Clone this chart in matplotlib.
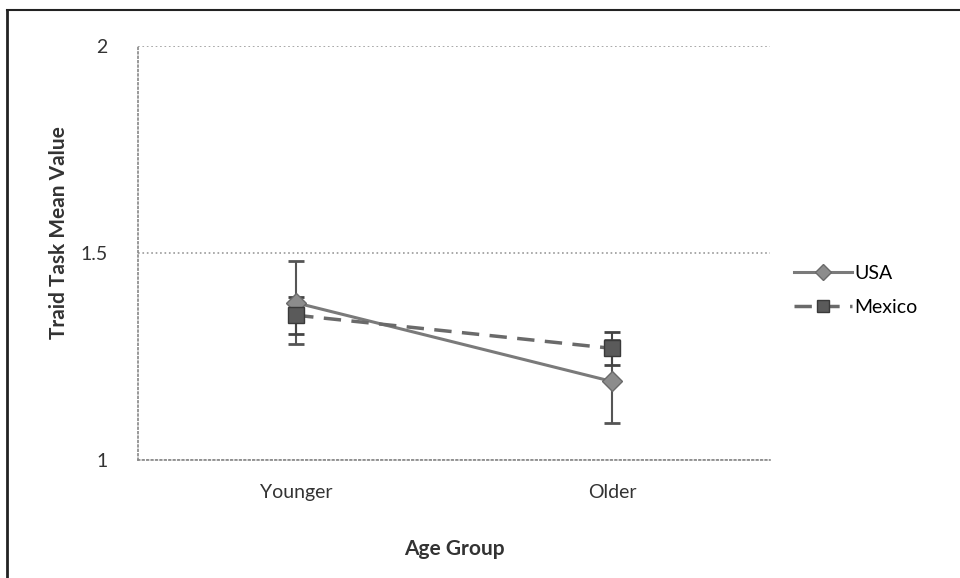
import matplotlib
matplotlib.use("Agg")
import matplotlib.pyplot as plt
from matplotlib.lines import Line2D
import numpy as np

groups = ["Younger", "Older"]
usa = [1.38, 1.19]
usa_err = [0.10, 0.10]
mexico = [1.35, 1.27]
mexico_err = [0.045, 0.04]

plt.rcParams['font.family'] = ['Lato', 'DejaVu Sans']

fig = plt.figure(figsize=(9.6, 5.78), dpi=100)
ax = fig.add_axes([0.144, 0.204, 0.658, 0.716])

x = np.arange(len(groups))

usa_style = dict(color="#7a7a7a", linestyle="-", linewidth=2.2, marker="D", markersize=10,
                 markerfacecolor="#8c8c8c", markeredgecolor="#6a6a6a")
mex_style = dict(color="#6a6a6a", linestyle=(0, (5, 3)), linewidth=2.5, marker="s", markersize=11,
                 markerfacecolor="#5a5a5a", markeredgecolor="#3a3a3a")

ax.errorbar(x, usa, yerr=usa_err, ecolor="#555555", elinewidth=1.5, capsize=6, capthick=2, **usa_style)
ax.errorbar(x, mexico, yerr=mexico_err, ecolor="#444444", elinewidth=1.5, capsize=6, capthick=2, **mex_style)

ax.set_xlim(-0.5, 1.5)
ax.set_ylim(1, 2)
ax.set_yticks([1, 1.5, 2])
ax.set_yticklabels(["1", "1.5", "2"])
ax.set_xticks(x)
ax.set_xticklabels(groups)
ax.tick_params(axis="both", length=0, labelsize=14, colors="#333333")
ax.tick_params(axis="y", pad=22)
ax.tick_params(axis="x", pad=17)

ax.grid(axis="y", color="#999999", linestyle=":", linewidth=1.2)
ax.set_axisbelow(True)
for side in ["top", "right"]:
    ax.spines[side].set_visible(False)
for side in ["left", "bottom"]:
    ax.spines[side].set_color("#888888")
    ax.spines[side].set_linestyle(":")
    ax.spines[side].set_linewidth(1.2)

ax.set_ylabel("Traid Task Mean Value", fontsize=15, fontweight="bold", color="#333333")
ax.yaxis.set_label_coords(-0.11, 0.55)
ax.set_xlabel("Age Group", fontsize=15, fontweight="bold", color="#333333")
ax.xaxis.set_label_coords(0.5, -0.19)

handles = [Line2D([], [], **usa_style), Line2D([], [], **mex_style)]
ax.legend(handles, ["USA", "Mexico"], loc="center left", bbox_to_anchor=(1.01, 0.41),
          frameon=False, fontsize=14, handlelength=3.0, labelspacing=0.9,
          handletextpad=0.1, markerscale=0.8)

# scanned page edge: left and top border only
fig.add_artist(Line2D([0.007, 0.007], [0.0, 0.983], transform=fig.transFigure, color="#222222", linewidth=2))
fig.add_artist(Line2D([0.007, 1.0], [0.983, 0.983], transform=fig.transFigure, color="#222222", linewidth=1.5))

fig.savefig("out.png", dpi=100)
